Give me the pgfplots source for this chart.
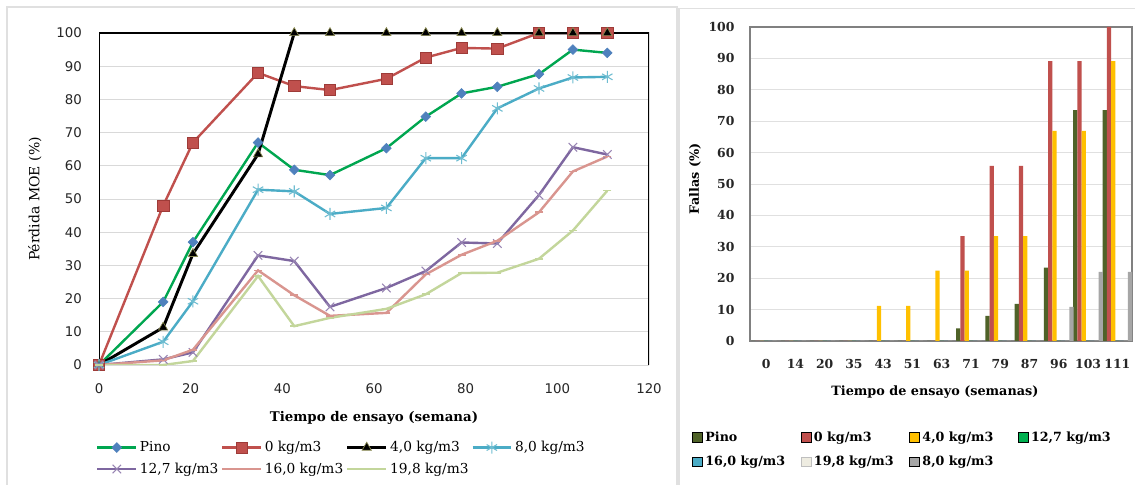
\documentclass[border=0pt]{standalone}
\usepackage{fontspec}
\setmainfont{DejaVu Serif}
\newfontfamily\sansf{DejaVu Sans}
\usepackage{pgfplots}
\pgfplotsset{compat=1.18}
\definecolor{pinoL}{HTML}{00A650}
\definecolor{pinoM}{HTML}{4F81BD}
\definecolor{redS}{HTML}{C0504D}
\definecolor{redD}{HTML}{9E3B38}
\definecolor{triE}{HTML}{8A8A50}
\definecolor{tealS}{HTML}{4BACC6}
\definecolor{purpS}{HTML}{7E67A0}
\definecolor{pinkS}{HTML}{D9958F}
\definecolor{lgrS}{HTML}{C3D69B}
\definecolor{pinoB}{HTML}{4F6228}
\definecolor{yelB}{HTML}{FFC000}
\definecolor{grnB}{HTML}{00B050}
\definecolor{bluB}{HTML}{4BACC6}
\definecolor{creB}{HTML}{EEECE1}
\definecolor{gryB}{HTML}{A6A6A6}
\begin{document}
\begin{tikzpicture}
\useasboundingbox (0,0) rectangle (851.25pt,363.75pt);
\fill[white] (0,0) rectangle (851.25pt,363.75pt);
% panel frames
\draw[black!12, line width=0.8pt] (5.25pt,0) -- (5.25pt,358.5pt) -- (507.75pt,358.5pt) -- (507.75pt,0);
\draw[black!12, line width=0.8pt] (509.25pt,0) -- (509.25pt,357.5pt) -- (851.25pt,357.5pt);

% ---------------- left chart ----------------
\begin{axis}[
  scale only axis, width=412.5pt, height=249pt,
  at={(74.25pt,90pt)}, anchor=south west,
  xmin=0, xmax=120, ymin=0, ymax=100,
  xtick={0,20,...,120}, ytick={0,10,...,100},
  /pgf/number format/assume math mode=true,
  major tick length=0pt,
  ymajorgrids, grid style={line width=0.6pt, draw=black!15},
  axis line style={draw=none},
  tick label style={font=\sansf\fontsize{10}{12}\selectfont, text=black!85},
  xticklabel style={yshift=-10.3pt},
  yticklabel style={xshift=-9.4pt},
  xlabel={Tiempo de ensayo (semana)},
  ylabel={Pérdida MOE (\%)},
  xlabel style={font=\bfseries\fontsize{10}{12}\selectfont, at={(axis description cs:0.5,-0.1596)}, anchor=center},
  ylabel style={font=\fontsize{10.5}{12}\selectfont, at={(axis description cs:-0.1164,0.5)}, anchor=center},
  legend columns=4,
  legend style={at={(rel axis cs:-0.0055,-0.221)}, anchor=north west, draw=none, fill=none, inner sep=0pt,
    font=\fontsize{10.3}{12}\selectfont, row sep=2.8pt},
  legend cell align=left,
  legend image code/.code={\draw[mark repeat=2,mark phase=2,#1] plot coordinates {(0pt,0pt) (14.5pt,0pt) (29pt,0pt)};},
  every axis plot/.append style={line width=1.8pt},
]
\draw[black, line width=0.8pt] (rel axis cs:0,0) -- (rel axis cs:0,1) -- (rel axis cs:1,1) -- (rel axis cs:1,0);
\addplot[color=pinoL, mark=square*, mark size=2.6pt, mark options={rotate=45, fill=pinoM, draw=pinoM, line width=0.4pt}]
  coordinates {(0,0)(14,19)(20.5,37)(34.7,67)(42.6,58.8)(50.4,57.2)(62.7,65.3)(71.3,74.8)(79.1,81.8)(86.9,83.8)(96,87.6)(103.4,95)(110.9,94)};
\addlegendentry{Pino}
\addplot[color=redS, mark=square*, mark size=4.2pt, mark options={fill=redS, draw=redD, line width=0.4pt}]
  coordinates {(0,0)(14,48)(20.5,67)(34.7,88)(42.6,84)(50.4,82.8)(62.7,86.2)(71.3,92.6)(79.1,95.5)(86.9,95.3)(96,100)(103.4,100)(110.9,100)};
\addlegendentry{0 kg/m3}
\addplot[color=black, line width=2.2pt, mark=triangle*, mark size=4pt, mark options={fill=black, draw=triE, line width=0.5pt}]
  coordinates {(0,0)(14,11.3)(20.5,33.5)(34.7,63.5)(42.6,100)(50.4,100)(62.7,100)(71.3,100)(79.1,100)(86.9,100)(96,100)(103.4,100)(110.9,100)};
\addlegendentry{4,0 kg/m3}
\addplot[color=tealS, mark=asterisk, mark size=4.5pt, mark options={draw=tealS!80, line width=0.8pt}]
  coordinates {(0,0)(14,7)(20.5,19.2)(34.7,52.8)(42.6,52.3)(50.4,45.5)(62.7,47.3)(71.3,62.3)(79.1,62.3)(86.9,77.3)(96,83.3)(103.4,86.6)(110.9,86.8)};
\addlegendentry{8,0 kg/m3}
\addplot[color=purpS, mark=x, mark size=4.5pt, mark options={draw=purpS!80, line width=0.8pt}]
  coordinates {(0,0)(14,1.7)(20.5,3.8)(34.7,33)(42.6,31.3)(50.4,17.5)(62.7,23.2)(71.3,28.3)(79.1,36.9)(86.9,36.6)(96,51.2)(103.4,65.6)(110.9,63.4)};
\addlegendentry{12,7 kg/m3}
\addplot[color=pinkS, mark=-, mark size=3pt, mark options={line width=1.2pt}]
  coordinates {(0,0)(14,1.4)(20.5,4.6)(34.7,28.5)(42.6,21)(50.4,14.8)(62.7,15.7)(71.3,27.3)(79.1,33.2)(86.9,37.4)(96,46)(103.4,58.3)(110.9,62.8)};
\addlegendentry{16,0 kg/m3}
\addplot[color=lgrS, mark=-, mark size=3pt, mark options={line width=1.2pt}]
  coordinates {(0,0)(14,0)(20.5,1.2)(34.7,26.8)(42.6,11.7)(50.4,14.2)(62.7,16.9)(71.3,21.3)(79.1,27.7)(86.9,27.8)(96,32)(103.4,40.5)(110.9,52.5)};
\addlegendentry{19,8 kg/m3}
\end{axis}

% ---------------- right chart ----------------
\begin{axis}[
  scale only axis, width=286.5pt, height=235.5pt,
  at={(562.5pt,108pt)}, anchor=south west,
  ybar=0pt, bar width=0.145,
  xmin=-0.55, xmax=12.5, ymin=0, ymax=100,
  xtick={0,1,...,12},
  xticklabels={0,14,20,35,43,51,63,71,79,87,96,103,111},
  ytick={0,10,...,100},
  /pgf/number format/assume math mode=true,
  major tick length=0pt,
  ymajorgrids, grid style={line width=0.6pt, draw=black!12},
  axis line style={draw=black!50, line width=0.8pt},
  tick label style={font=\bfseries\fontsize{9.3}{11}\selectfont, text=black!85},
  xticklabel style={yshift=-10pt},
  yticklabel style={xshift=-8.1pt},
  xlabel={Tiempo de ensayo (semanas)},
  ylabel={Fallas (\%)},
  xlabel style={font=\bfseries\fontsize{9.6}{11}\selectfont, at={(axis description cs:0.484,-0.162)}, anchor=center},
  ylabel style={font=\bfseries\fontsize{9.6}{11}\selectfont, at={(axis description cs:-0.144,0.516)}, anchor=center},
  legend columns=4,
  legend style={at={(rel axis cs:-0.152,-0.279)}, anchor=north west, draw=none, fill=none, inner sep=0pt,
    font=\bfseries\fontsize{9.5}{11}\selectfont, row sep=5.5pt},
  legend cell align=left,
  legend image code/.code={\draw[#1] (0pt,-3.6pt) rectangle (7.5pt,3.6pt);},
]
\addplot[fill=pinoB, draw=none] coordinates {(0,0)(1,0)(2,0)(3,0)(4,0)(5,0)(6,0)(7,4)(8,8)(9,11.8)(10,23.4)(11,73.5)(12,73.5)};
\addlegendentry{\makebox[69.5pt][l]{Pino}}
\addplot[fill=redS, draw=none] coordinates {(0,0)(1,0)(2,0)(3,0)(4,0)(5,0)(6,0)(7,33.4)(8,55.8)(9,55.8)(10,89.1)(11,89.1)(12,100)};
\addlegendentry{\makebox[69.5pt][l]{0 kg/m3}}
\addplot[fill=yelB, draw=none] coordinates {(0,0)(1,0)(2,0)(3,0)(4,11.2)(5,11.2)(6,22.4)(7,22.4)(8,33.4)(9,33.4)(10,66.9)(11,66.9)(12,89.1)};
\addlegendentry{\makebox[69.5pt][l]{4,0 kg/m3}}
\addplot[fill=grnB, draw=none] coordinates {(0,0)(1,0)(2,0)(3,0)(4,0)(5,0)(6,0)(7,0)(8,0)(9,0)(10,0)(11,0)(12,0)};
\addlegendentry{12,7 kg/m3}
\addplot[fill=bluB, draw=none] coordinates {(0,0)(1,0)(2,0)(3,0)(4,0)(5,0)(6,0)(7,0)(8,0)(9,0)(10,0)(11,0)(12,0)};
\addlegendentry{\makebox[69.5pt][l]{16,0 kg/m3}}
\addplot[fill=creB, draw=black!25] coordinates {(0,0)(1,0)(2,0)(3,0)(4,0)(5,0)(6,0)(7,0)(8,0)(9,0)(10,0)(11,0)(12,0)};
\addlegendentry{\makebox[69.5pt][l]{19,8 kg/m3}}
\addplot[fill=gryB, draw=none] coordinates {(0,0)(1,0)(2,0)(3,0)(4,0)(5,0)(6,0)(7,0)(8,0)(9,0)(10,10.9)(11,22)(12,22)};
\addlegendentry{\makebox[69.5pt][l]{8,0 kg/m3}}
\end{axis}
\end{tikzpicture}
\end{document}
